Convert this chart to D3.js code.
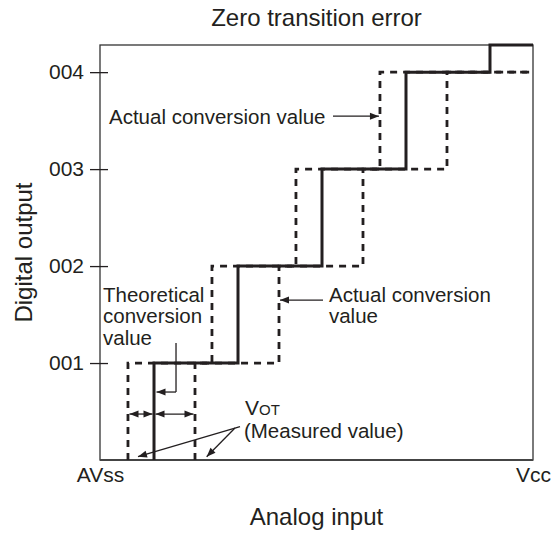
<!DOCTYPE html>
<html><head><meta charset="utf-8">
<script src="https://cdn.jsdelivr.net/npm/d3@7"></script>
<style>
body{margin:0;background:#fff}
svg{display:block}
text{font-family:"Liberation Sans",Arial,Helvetica,sans-serif;fill:#231f20}
</style>
</head><body>
<svg id="c" width="556" height="533"></svg>
<script>
// ---- data (x in LSB units from AVss, y in output codes) ----
const yCodes = [1, 2, 3, 4];
const yTickLabels = ["001", "002", "003", "004"];
const xEnds = [0, 5.155];
const xEndLabels = ["AVss", "Vcc"];
const yTop = 4.28;
const theoreticalTransitions = [0.643, 1.643, 2.643, 3.643, 4.643];
const theoreticalCodes = [1, 2, 3, 4, 5];
const actualLowTransitions = [0.333, 1.333, 2.333, 3.333];
const actualHighTransitions = [1.131, 2.131, 3.131, 4.131];
const actualCodes = [1, 2, 3, 4];

const title = "Zero transition error";
const xTitle = "Analog input";
const yTitle = "Digital output";

const ink = "#231f20";
const svg = d3.select("#c");
const L = 100, R = 533, T = 45, B = 460;

const x = d3.scaleLinear().domain(xEnds).range([L, R]);
const y = d3.scaleLinear().domain([0, yTop]).range([B, T]).clamp(true);

// frame
svg.append("rect").attr("x", L).attr("y", T).attr("width", R - L).attr("height", B - T)
  .attr("fill", "none").attr("stroke", "#333").attr("stroke-width", 1.3);
svg.append("line").attr("x1", L).attr("x2", R).attr("y1", B).attr("y2", B)
  .attr("stroke", "#444").attr("stroke-width", 2.2);

// step paths
function stepPoints(trans, codes) {
  const pts = [[trans[0], 0]];
  trans.forEach((t, i) => pts.push([t, codes[i]]));
  pts.push([xEnds[1], codes[codes.length - 1]]);
  return pts;
}
const line = d3.line().x(d => x(d[0])).y(d => y(d[1])).curve(d3.curveStepAfter);

[actualLowTransitions, actualHighTransitions].forEach(tr => {
  svg.append("path").attr("d", line(stepPoints(tr, actualCodes)))
    .attr("fill", "none").attr("stroke", ink).attr("stroke-width", 2.8)
    .attr("stroke-dasharray", "7,6");
});
svg.append("path").attr("d", line(stepPoints(theoreticalTransitions, theoreticalCodes)))
  .attr("fill", "none").attr("stroke", ink).attr("stroke-width", 3);

// axes
const yAxis = d3.axisLeft(y).tickValues(yCodes).tickFormat((d, i) => yTickLabels[i])
  .tickSizeInner(18).tickSizeOuter(0).tickPadding(6);
const gy = svg.append("g").attr("transform", `translate(${L + 8},0)`).call(yAxis);
gy.select(".domain").remove();
gy.attr("font-family", null).attr("font-size", 21).style("color", ink);
gy.selectAll("line").attr("stroke-width", 1.3);

const xAxis = d3.axisBottom(x).tickValues(xEnds).tickFormat((d, i) => xEndLabels[i])
  .tickSize(0).tickPadding(7);
const gx = svg.append("g").attr("transform", `translate(0,${B})`).call(xAxis);
gx.select(".domain").remove();
gx.attr("font-family", null).attr("font-size", 21).style("color", ink);

// titles
svg.append("text").attr("x", (L + R) / 2).attr("y", 26).attr("text-anchor", "middle")
  .attr("font-size", 24).text(title);
svg.append("text").attr("x", (L + R) / 2).attr("y", 525).attr("text-anchor", "middle")
  .attr("font-size", 24).text(xTitle);
svg.append("text").attr("transform", `translate(32,${(T + B) / 2}) rotate(-90)`)
  .attr("text-anchor", "middle").attr("font-size", 24).text(yTitle);

// annotations helpers
function arrowHead(x1, y1, x2, y2, len = 9, hw = 3.5) {
  const dx = x2 - x1, dy = y2 - y1, d = Math.hypot(dx, dy);
  const ux = dx / d, uy = dy / d, nx = -uy, ny = ux;
  const bx = x2 - ux * len, by = y2 - uy * len;
  svg.append("path").attr("d", `M${x2},${y2}L${bx + nx * hw},${by + ny * hw}L${bx - nx * hw},${by - ny * hw}Z`)
    .attr("fill", ink);
}
function arrow(x1, y1, x2, y2, both = false) {
  svg.append("line").attr("x1", x1).attr("y1", y1).attr("x2", x2).attr("y2", y2)
    .attr("stroke", ink).attr("stroke-width", 1.3);
  arrowHead(x1, y1, x2, y2);
  if (both) arrowHead(x2, y2, x1, y1);
}
function label(xd, yd, lines, lh = 21.5) {
  lines.forEach((s, i) => svg.append("text").attr("x", x(xd)).attr("y", y(yd) + i * lh)
    .attr("font-size", 20.5).text(s));
}

// "Actual conversion value" (upper left)
label(0.107, 3.464, ["Actual conversion value"]);
arrow(x(2.774), y(3.546), x(actualLowTransitions[3]) - 1, y(3.546));

// "Actual conversion value" (right)
label(2.726, 1.632, ["Actual conversion", "value"]);
arrow(x(2.655), y(1.649), x(actualHighTransitions[1]) + 1, y(1.649));

// "Theoretical conversion value"
label(0.036, 1.632, ["Theoretical", "conversion", "value"]);
svg.append("line").attr("x1", x(0.905)).attr("x2", x(0.905)).attr("y1", y(1.206)).attr("y2", y(0.701))
  .attr("stroke", ink).attr("stroke-width", 1.3);
arrow(x(0.905), y(0.701), x(theoreticalTransitions[0]) + 2.5, y(0.701));

// VOT double arrows
arrow(x(actualLowTransitions[0]) + 1.5, y(0.474), x(theoreticalTransitions[0]) - 1.5, y(0.474), true);
arrow(x(theoreticalTransitions[0]) + 1.5, y(0.474), x(actualHighTransitions[0]) - 1.5, y(0.474), true);

// VOT label
const vt = svg.append("text").attr("x", x(1.726)).attr("y", y(0.464)).attr("font-size", 21);
vt.append("tspan").text("V");
vt.append("tspan").attr("font-size", 15).text("OT");
label(1.714, 0.227, ["(Measured value)"]);
arrow(x(1.667), y(0.345), x(0.452), y(0.034));
arrow(x(1.607), y(0.330), x(1.270), y(0.034));
</script>
</body></html>
